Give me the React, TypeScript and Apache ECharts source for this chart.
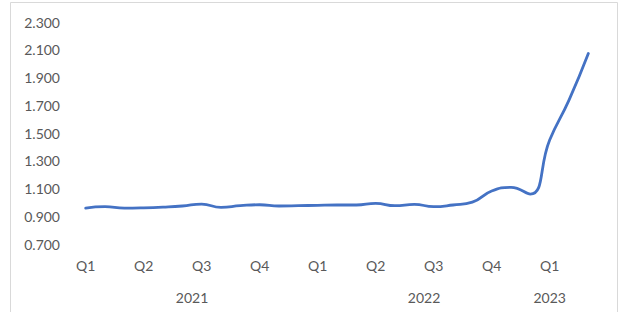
import React, { useEffect, useRef } from "react";
import * as echarts from "echarts";

const months = [
  "2021-01", "2021-02", "2021-03", "2021-04", "2021-05", "2021-06",
  "2021-07", "2021-08", "2021-09", "2021-10", "2021-11", "2021-12",
  "2022-01", "2022-02", "2022-03", "2022-04", "2022-05", "2022-06",
  "2022-07", "2022-08", "2022-09", "2022-10", "2022-11", "2022-12",
  "2023-01", "2023-02", "2023-03",
];

const values = [
  0.959, 0.969, 0.959, 0.961, 0.966, 0.974, 0.988, 0.964, 0.976, 0.983, 0.974, 0.976,
  0.979, 0.981, 0.981, 0.993, 0.976, 0.986, 0.969, 0.981, 1.002, 1.082, 1.108, 1.06,
  1.449, 1.737, 2.073,
];

const quarterLabels = ["Q1", "Q2", "Q3", "Q4", "Q1", "Q2", "Q3", "Q4", "Q1"];
const years = ["2021", "2022", "2023"];
const yearLabelSpans = [12, 12, 1];
const yTicks = [0.7, 0.9, 1.1, 1.3, 1.5, 1.7, 1.9, 2.1, 2.3];

const FONT = "Lato";
const TEXT = "#595959";

export default function App() {
  const ref = useRef<HTMLDivElement>(null);

  useEffect(() => {
    document.body.style.margin = "0";
    if (!ref.current) return;
    const chart = echarts.init(ref.current, undefined, { renderer: "svg" });

    const yearCenters: number[] = [];
    let start = 0;
    yearLabelSpans.forEach((span) => {
      yearCenters.push(start + (span - 1) / 2);
      start += span;
    });

    chart.setOption({
      animation: false,
      graphic: [
        {
          type: "rect",
          shape: { x: 10.5, y: 2.5, width: 607, height: 330 },
          style: { fill: "none", stroke: "#d9d9d9", lineWidth: 1 },
          silent: true,
        },
      ],
      grid: { left: 76, right: 27, top: 22, bottom: 68 },
      xAxis: [
        {
          type: "category",
          data: months,
          boundaryGap: true,
          axisLine: { show: false },
          axisTick: { show: false },
          splitLine: { show: false },
          axisLabel: {
            interval: (index: number) => index % 3 === 0,
            formatter: (_v: string, index: number) => quarterLabels[Math.floor(index / 3)] ?? "",
            color: TEXT,
            fontFamily: FONT,
            fontSize: 14,
            margin: 14,
          },
        },
        {
          type: "value",
          min: -0.5,
          max: months.length - 0.5,
          position: "bottom",
          axisLine: { show: false },
          axisTick: { show: false },
          splitLine: { show: false },
          axisLabel: {
            customValues: yearCenters,
            formatter: (v: number) => {
              const i = yearCenters.findIndex((c) => Math.abs(c - v) < 0.01);
              return i >= 0 ? years[i] : "";
            },
            color: TEXT,
            fontFamily: FONT,
            fontSize: 14,
            margin: 46,
          },
        },
      ],
      yAxis: {
        type: "value",
        min: 0.7,
        max: 2.3,
        axisLine: { show: false },
        axisTick: { show: false },
        splitLine: { show: false },
        axisLabel: {
          customValues: yTicks,
          formatter: (v: number) => v.toFixed(3),
          color: TEXT,
          fontFamily: FONT,
          fontSize: 14,
          margin: 16,
        },
      },
      series: [
        {
          type: "line",
          data: values,
          xAxisIndex: 0,
          smooth: 0.5,
          symbol: "none",
          lineStyle: { color: "#4472C4", width: 2.8, cap: "round", join: "round" },
        },
      ],
    });

    return () => chart.dispose();
  }, []);

  return <div ref={ref} style={{ width: 625, height: 312 }} />;
}
